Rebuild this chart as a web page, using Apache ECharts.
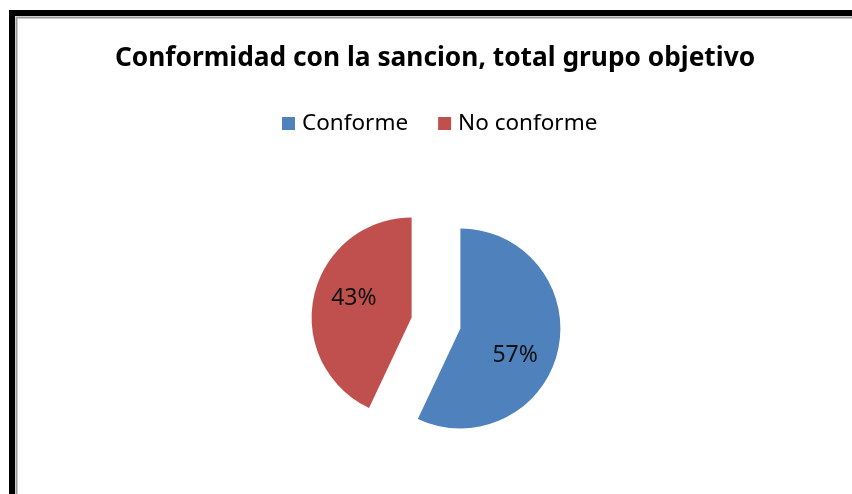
<!DOCTYPE html>
<html>
<head>
<meta charset="utf-8">
<script src="https://cdn.jsdelivr.net/npm/echarts@6/dist/echarts.min.js"></script>
<style>
html,body{margin:0;padding:0;background:#fff;}
#chart{width:852px;height:494px;}
</style>
</head>
<body>
<div id="chart"></div>
<script>
const titleText = 'Conformidad con la sancion, total grupo objetivo';
const categories = ['Conforme', 'No conforme'];
const values = [57, 43];
const colors = ['#4F81BD', '#C0504D'];

const chart = echarts.init(document.getElementById('chart'));
const fontFamily = '"Noto Sans", "Open Sans", sans-serif';
const labelShift = [[3, 15], [-6, -8]];
chart.setOption({
  animation: false,
  backgroundColor: '#fff',
  graphic: [
    { type: 'rect', shape: { x: 12, y: 13, width: 900, height: 600 }, style: { fill: 'none', stroke: '#000', lineWidth: 6 } },
    { type: 'rect', shape: { x: 16.5, y: 17.5, width: 900, height: 600 }, style: { fill: 'none', stroke: '#999', lineWidth: 2 } }
  ],
  title: {
    text: titleText,
    left: 430, top: 41, textAlign: 'center',
    textStyle: { fontFamily, fontWeight: 'bold', fontSize: 26.3, color: '#000' }
  },
  legend: {
    data: categories,
    top: 107, left: 277,
    itemWidth: 13, itemHeight: 13, itemGap: 30,
    icon: 'rect',
    textStyle: { fontFamily, fontSize: 22.5, color: '#000', padding: [0, 0, 0, 2] }
  },
  series: [{
    type: 'pie',
    center: [436, 323],
    radius: 100,
    startAngle: 90,
    clockwise: true,
    selectedMode: 'multiple',
    selectedOffset: 25,
    label: {
      show: true, position: 'inside',
      formatter: '{d}%',
      fontFamily, fontSize: 23, color: '#111'
    },
    labelLayout: (p) => ({ dx: labelShift[p.dataIndex][0], dy: labelShift[p.dataIndex][1] }),
    labelLine: { show: false },
    emphasis: { disabled: true },
    data: categories.map((c, i) => ({ name: c, value: values[i], selected: true, itemStyle: { color: colors[i] } }))
  }]
});
</script>
</body>
</html>
